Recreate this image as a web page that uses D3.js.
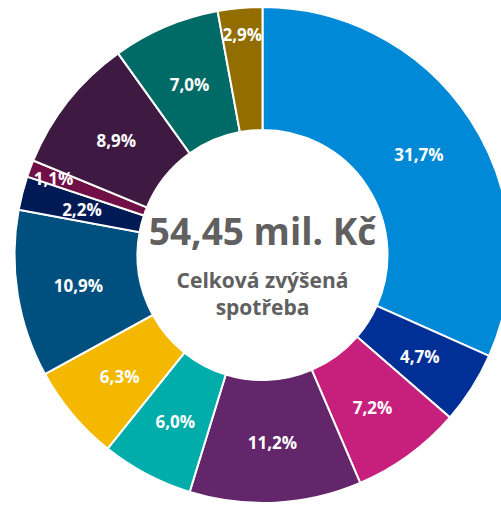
<!DOCTYPE html>
<html>
<head>
<meta charset="utf-8">
<script src="https://cdn.jsdelivr.net/npm/d3@7"></script>
<style>
  body { margin: 0; background: #fff; overflow: hidden; }
  svg { display: block; }
  .slice-label { font-family: "Open Sans", sans-serif; font-weight: bold; fill: #fff; }
  .center-text { font-family: "Open Sans", sans-serif; font-weight: bold; fill: #606060; }
</style>
</head>
<body>
<div class="chart"></div>
<script>
// Share of total increased consumption, clockwise from 12 o'clock

var shares = [31.7, 4.7, 7.2, 11.2, 6.0, 6.3, 10.9, 2.2, 1.1, 8.9, 7.0, 2.9];
var colors = ["#0089d6", "#002f95", "#c71f7c", "#63266b", "#00adaa", "#f4b800",
              "#00507f", "#001a55", "#701046", "#3e1a43", "#006a66", "#926e00"];
var totalText = "54,45 mil. Kč";
var subtitleLines = ["Celková zvýšená", "spotřeba"];

var svgWidth = 501;
var svgHeight = 505;

var cx = 262.5;
var cy = 255;
var outerR = 248;
var innerR = 125;

var svg = d3.select(".chart")
    .append("svg")
    .attr("width", svgWidth)
    .attr("height", svgHeight);

var chart = svg.append("g")
    .attr("transform", "translate(" + cx + "," + cy + ")");

var pie = d3.pie()
    .value(function(d) { return d; })
    .sort(null);

var arc = d3.arc()
    .innerRadius(innerR)
    .outerRadius(outerR);

var arcs = pie(shares);

chart.selectAll("path")
    .data(arcs)
    .enter()
    .append("path")
    .attr("d", arc)
    .attr("fill", function(d, i) { return colors[i]; })
    .attr("stroke", "#fff")
    .attr("stroke-width", 2);

// labels: centroid, pushed outwards when the label doesn't fit across the slice
var labelMid = (innerR + outerR) / 2;
var fontSize = 17;

chart.selectAll(".slice-label")
    .data(arcs)
    .enter()
    .append("text")
    .attr("class", "slice-label")
    .attr("font-size", fontSize + "px")
    .attr("text-anchor", "middle")
    .attr("dy", "0.35em")
    .text(function(d) { return d.data.toFixed(1).replace(".", ",") + "%"; })
    .each(function(d) {
        var a = (d.startAngle + d.endAngle) / 2;
        var span = (d.endAngle - d.startAngle) * labelMid;
        var w = this.getComputedTextLength();
        var h = fontSize * 0.8;
        var need = w * Math.abs(Math.cos(a)) + h * Math.abs(Math.sin(a));
        var r = need > span ? 223 : labelMid;
        d3.select(this)
            .attr("x", r * Math.sin(a))
            .attr("y", -r * Math.cos(a) + 2);
    });

// center text
chart.append("text")
    .attr("class", "center-text")
    .attr("text-anchor", "middle")
    .attr("y", -10)
    .attr("font-size", "37px")
    .text(totalText);

chart.selectAll(".subtitle")
    .data(subtitleLines)
    .enter()
    .append("text")
    .attr("class", "center-text subtitle")
    .attr("text-anchor", "middle")
    .attr("font-size", "21px")
    .attr("y", function(d, i) { return 33 + i * 27; })
    .text(function(d) { return d; });
</script>
</body>
</html>
